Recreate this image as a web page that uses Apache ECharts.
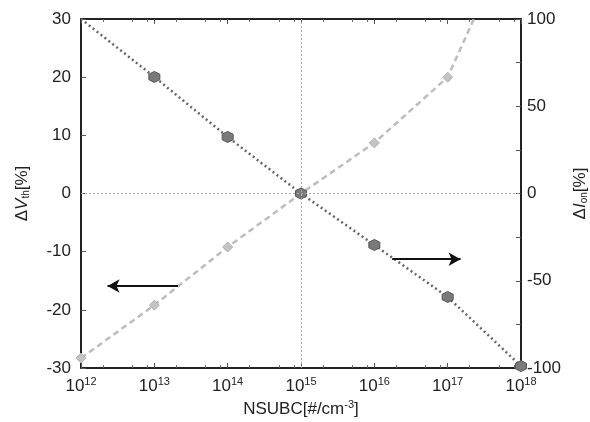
<!DOCTYPE html>
<html>
<head>
<meta charset="utf-8">
<script src="https://cdn.jsdelivr.net/npm/echarts@6/dist/echarts.min.js"></script>
<style>
  html, body { margin: 0; padding: 0; background: #fff; }
  #chart { width: 590px; height: 422px; }
</style>
</head>
<body>
<div id="chart"></div>
<script>
// doping concentration NSUBC [#/cm^-3]
const nsubc = [1e12, 1e13, 1e14, 1e15, 1e16, 1e17, 1e18];
// ΔVth [%] (left axis, light dashed, diamonds)
const dVth = [-28.3, -19.2, -9.2, 0, 8.7, 20.0, 48];
// ΔIon [%] (right axis, dark dotted, hexagons)
const dIon = [100, 66.8, 32.4, 0, -29.5, -59.3, -98.9];
// minor ticks on x axes (2, 5, 8 per decade)
const minorX = [];
for (let e = 12; e < 18; e++) [2, 5, 8].forEach((m) => minorX.push(m * Math.pow(10, e)));
// arrows pointing to the axis of each curve, [x, ΔVth]
const arrowLeft = [[2.1e13, -15.9], [2.3e12, -15.9]];
const arrowRight = [[1.75e16, -11.3], [1.5e17, -11.3]];

const hexagon = "path://M50,0 L93,25 L93,75 L50,100 L7,75 L7,25 Z";
const font = "Liberation Sans, Arial, sans-serif";

const expLabel = (v) => {
  const e = Math.round(Math.log10(v));
  return "{b|10}{s|" + e + "}";
};

const chart = echarts.init(document.getElementById("chart"), null, { renderer: "canvas" });

const baseX = {
  type: "log",
  logBase: 10,
  min: 1e12,
  max: 1e18,
  splitLine: { show: false },
};

const option = {
  animation: false,
  grid: { left: 81, right: 69, top: 19, bottom: 54, containLabel: false, outerBoundsMode: "none" },
  xAxis: [
    {
      ...baseX,
      position: "bottom",
      axisLine: { onZero: false, lineStyle: { color: "#222", width: 2 } },
      axisTick: { inside: true, length: 5, lineStyle: { color: "#555" } },
      axisLabel: {
        formatter: expLabel,
        margin: 8,
        rich: {
          b: { fontFamily: font, fontSize: 17, color: "#222", verticalAlign: "bottom" },
          s: { fontFamily: font, fontSize: 11, color: "#222", verticalAlign: "top", padding: [0, 0, 8, 0] },
        },
      },
      name: "NSUBC[#/cm{s|-3}]",
      nameLocation: "middle",
      nameGap: 30,
      nameTextStyle: {
        fontFamily: font,
        fontSize: 17,
        color: "#222",
        rich: { s: { fontFamily: font, fontSize: 11, color: "#222", padding: [0, 0, 8, 0] } },
      },
    },
    {
      ...baseX,
      position: "top",
      axisLine: { onZero: false, lineStyle: { color: "#222", width: 2 } },
      axisTick: { inside: true, length: 5, lineStyle: { color: "#555" } },
      axisLabel: { show: false },
    },
    {
      ...baseX,
      position: "bottom",
      axisLine: { show: false, onZero: false },
      axisTick: { inside: true, length: 3, customValues: minorX, lineStyle: { color: "#666" } },
      axisLabel: { show: false },
    },
    {
      ...baseX,
      position: "top",
      axisLine: { show: false, onZero: false },
      axisTick: { inside: true, length: 3, customValues: minorX, lineStyle: { color: "#666" } },
      axisLabel: { show: false },
    },
  ],
  yAxis: [
    {
      type: "value",
      min: -30,
      max: 30,
      interval: 10,
      position: "left",
      axisLine: { show: true, onZero: false, lineStyle: { color: "#222", width: 2 } },
      axisTick: { show: true, inside: true, length: 5, lineStyle: { color: "#555" } },
      axisLabel: { fontFamily: font, fontSize: 17, color: "#222", margin: 10 },
      splitLine: { show: false },
      name: "Δ{i|V}{s|th}[%]",
      nameLocation: "middle",
      nameRotate: 90,
      nameGap: 50,
      nameTextStyle: {
        fontFamily: font,
        fontSize: 17,
        color: "#222",
        rich: {
          i: { fontFamily: font, fontSize: 17, fontStyle: "italic", color: "#222" },
          s: { fontFamily: font, fontSize: 10, color: "#222", padding: [8, 0, 0, 0] },
        },
      },
    },
    {
      type: "value",
      min: -100,
      max: 100,
      interval: 50,
      position: "right",
      axisLine: { show: true, onZero: false, lineStyle: { color: "#222", width: 2 } },
      axisTick: { show: true, inside: true, length: 5, lineStyle: { color: "#555" } },
      minorTick: { show: true, splitNumber: 2, length: 5, lineStyle: { color: "#555" } },
      axisLabel: { fontFamily: font, fontSize: 17, color: "#222", margin: 6 },
      splitLine: { show: false },
      name: "Δ{i|I}{s|on}[%]",
      nameLocation: "middle",
      nameRotate: 90,
      nameGap: 50,
      nameTextStyle: {
        fontFamily: font,
        fontSize: 17,
        color: "#222",
        rich: {
          i: { fontFamily: font, fontSize: 17, fontStyle: "italic", color: "#222" },
          s: { fontFamily: font, fontSize: 10, color: "#222", padding: [8, 0, 0, 0] },
        },
      },
    },
  ],
  series: [
    {
      name: "ΔVth",
      type: "line",
      xAxisIndex: 0,
      yAxisIndex: 0,
      data: nsubc.map((x, i) => [x, dVth[i]]),
      symbol: "diamond",
      symbolSize: 10,
      showAllSymbol: true,
      clip: true,
      lineStyle: { color: "#bdbdbd", width: 2.5, type: [6, 4] },
      itemStyle: { color: "#c4c4c4", borderColor: "#b0b0b0", borderWidth: 1 },
      markLine: {
        silent: true,
        symbol: ["none", "arrow"],
        symbolSize: [10, 12],
        label: { show: false },
        lineStyle: { color: "#111", width: 2, type: "solid" },
        data: [
          [{ coord: arrowLeft[0] }, { coord: arrowLeft[1] }],
          [{ coord: arrowRight[0] }, { coord: arrowRight[1] }],
        ],
      },
      z: 3,
    },
    {
      name: "ΔIon",
      type: "line",
      xAxisIndex: 0,
      yAxisIndex: 1,
      data: nsubc.map((x, i) => (i === 0 ? { value: [x, dIon[i]], symbol: "none" } : [x, dIon[i]])),
      symbol: hexagon,
      symbolSize: 11,
      showAllSymbol: true,
      lineStyle: { color: "#666", width: 2.5, type: [2, 3] },
      itemStyle: { color: "#7a7a7a", borderColor: "#555", borderWidth: 1 },
      markLine: {
        silent: true,
        symbol: "none",
        label: { show: false },
        lineStyle: { color: "#aaa", width: 1, type: [2, 2] },
        data: [{ yAxis: 0 }, { xAxis: 1e15 }],
      },
      z: 4,
    },
  ],
};

chart.setOption(option);
</script>
</body>
</html>
